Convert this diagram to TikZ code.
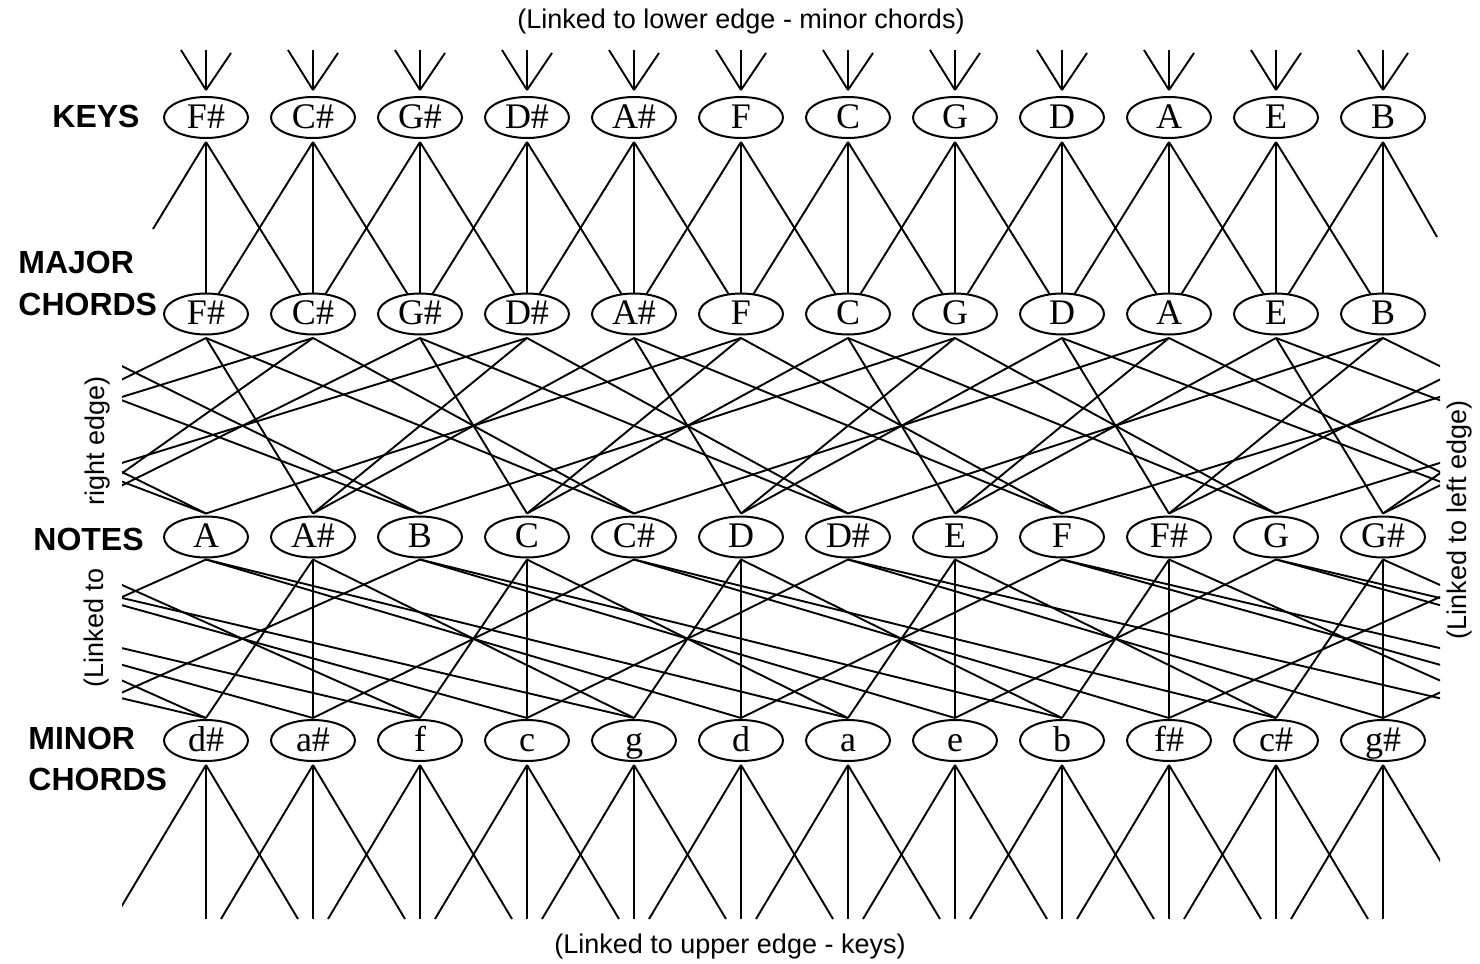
\documentclass[tikz,border=0pt]{standalone}
\usepackage{fontspec}
\setmainfont{Liberation Serif}
\newfontfamily\labfont{Liberation Sans}
\usetikzlibrary{shapes.geometric}
\begin{document}
\begin{tikzpicture}[x=0.5pt,y=-0.5pt,
  nd/.style={ellipse,draw,line width=1pt,minimum width=42pt,minimum height=20.5pt,
    inner sep=0pt,outer sep=0pt,text height=12pt,text depth=1.5pt,
    font=\fontsize{18}{20}\selectfont},
  ln/.style={line width=0.95pt},
  biglab/.style={font=\labfont\bfseries\fontsize{16}{18}\selectfont,anchor=west,inner sep=0pt},
  smalllab/.style={font=\labfont\fontsize{13.5}{15}\selectfont,inner sep=0pt}]
\fill[white] (0,0) rectangle (1480,964);
\useasboundingbox (0,0) rectangle (1480,964);

% ---------- nodes ----------
\foreach \n [count=\i] in {F\#,C\#,G\#,D\#,A\#,F,C,G,D,A,E,B} {
  \node[nd] (K\i) at ({206+(\i-1)*107},117.5) {\n};
  \node[nd] (M\i) at ({206+(\i-1)*107},314) {\n};
}
\foreach \n [count=\i] in {A,A\#,B,C,C\#,D,D\#,E,F,F\#,G,G\#}
  \node[nd] (N\i) at ({206+(\i-1)*107},537) {\n};
\foreach \n [count=\i] in {d\#,a\#,f,c,g,d,a,e,b,f\#,c\#,g\#}
  \node[nd] (m\i) at ({206+(\i-1)*107},740.5) {\n};

% ---------- attachment points ----------
\foreach \i in {1,...,12} {
  \coordinate (Kt\i) at ([yshift=3.5pt]K\i.north);
  \coordinate (Kb\i) at ([yshift=-2pt]K\i.south);
  \coordinate (Mb\i) at ([yshift=-1.75pt]M\i.south);
  \coordinate (Nt\i) at ([yshift=1.5pt]N\i.north);
  \coordinate (Nb\i) at ([yshift=-1pt]N\i.south);
  \coordinate (mt\i) at ([yshift=1pt]m\i.north);
  \coordinate (mb\i) at ([yshift=-2pt]m\i.south);
  \coordinate (tL\i) at ([shift={(-25,-40)}]Kt\i);
  \coordinate (tC\i) at ([shift={(0,-40)}]Kt\i);
  \coordinate (tR\i) at ([shift={(25,-37)}]Kt\i);
  \coordinate (bL\i) at ([shift={(-92,154)}]mb\i);
  \coordinate (bC\i) at ([shift={(0,154)}]mb\i);
  \coordinate (bR\i) at ([shift={(92,154)}]mb\i);
}
\coordinate (KsL) at (153,229);
\coordinate (KsR) at (1437,237);

% ---------- labels ----------
\node[biglab] (lkeys) at (52,116) {KEYS};
\node[biglab] (lmaj1) at (18,262) {MAJOR};
\node[biglab] (lmaj2) at (18,304) {CHORDS};
\node[biglab] (lnotes) at (33,539) {NOTES};
\node[biglab] (lmin1) at (28,738) {MINOR};
\node[biglab] (lmin2) at (28,779) {CHORDS};
\node[smalllab] (ttop) at (741,22) {(Linked to lower edge - minor chords)};
\node[smalllab] (tbot) at (730,947) {(Linked to upper edge - keys)};
\node[smalllab,rotate=90] (tl1) at (98,441) {right edge)};
\node[smalllab,rotate=90] (tl2) at (97,628) {(Linked to};
\node[smalllab,rotate=90] (tr) at (1460,520) {(Linked to left edge)};

% ---------- keys: links from the lower edge ----------
\foreach \i in {1,...,12} {
  \draw[ln] (tL\i) -- (Kt\i);
  \draw[ln] (tC\i) -- (Kt\i);
  \draw[ln] (tR\i) -- (Kt\i);
}

% ---------- keys -> major chords ----------
\foreach \i in {1,...,12} \draw[ln] (Kb\i) -- (M\i);
\foreach \i/\j in {1/2,2/3,3/4,4/5,5/6,6/7,7/8,8/9,9/10,10/11,11/12} {
  \draw[ln] (Kb\i) -- (M\j);
  \draw[ln] (Kb\j) -- (M\i);
}
\draw[ln] (Kb1) -- (KsL);
\draw[ln] (Kb12) -- (KsR);

\begin{scope}
\clip (122,0) rectangle (1440,964);
% ---------- major chords -> notes ----------
\foreach \c/\t in {1/-2,1/2,1/5, 2/-3,2/0,2/5, 3/0,3/4,3/7, 4/-1,4/2,4/7,
    5/2,5/6,5/9, 6/1,6/4,6/9, 7/4,7/8,7/11, 8/3,8/6,8/11,
    9/6,9/10,9/13, 10/5,10/8,10/13, 11/8,11/12,11/15, 12/7,12/10,12/15} {
  \ifnum\t<1
    \pgfmathtruncatemacro\tm{\t+12}
    \coordinate (vA) at ([xshift=-659pt]Nt\tm);
    \coordinate (vB) at ([xshift=659pt]Mb\c);
    \draw[ln] (Mb\c) -- (vA);
    \draw[ln] (vB) -- (Nt\tm);
  \else\ifnum\t>12
    \pgfmathtruncatemacro\tm{\t-12}
    \coordinate (vA) at ([xshift=659pt]Nt\tm);
    \coordinate (vB) at ([xshift=-659pt]Mb\c);
    \draw[ln] (Mb\c) -- (vA);
    \draw[ln] (vB) -- (Nt\tm);
  \else
    \draw[ln] (Mb\c) -- (Nt\t);
  \fi\fi
}
% ---------- notes -> minor chords ----------
\foreach \c/\t in {1/-5,1/-2,1/2, 2/-3,2/2,2/5, 3/-3,3/0,3/4, 4/-1,4/4,4/7,
    5/-1,5/2,5/6, 6/1,6/6,6/9, 7/1,7/4,7/8, 8/3,8/8,8/11,
    9/3,9/6,9/10, 10/5,10/10,10/13, 11/5,11/8,11/12, 12/7,12/12,12/15} {
  \ifnum\t<1
    \pgfmathtruncatemacro\tm{\t+12}
    \coordinate (vA) at ([xshift=-659pt]Nb\tm);
    \coordinate (vB) at ([xshift=659pt]mt\c);
    \draw[ln] (vA) -- (mt\c);
    \draw[ln] (Nb\tm) -- (vB);
  \else\ifnum\t>12
    \pgfmathtruncatemacro\tm{\t-12}
    \coordinate (vA) at ([xshift=659pt]Nb\tm);
    \coordinate (vB) at ([xshift=-659pt]mt\c);
    \draw[ln] (vA) -- (mt\c);
    \draw[ln] (Nb\tm) -- (vB);
  \else
    \draw[ln] (Nb\t) -- (mt\c);
  \fi\fi
}
% ---------- minor chords: links to the upper edge ----------
\foreach \i in {1,...,12} {
  \draw[ln] (mb\i) -- (bL\i);
  \draw[ln] (mb\i) -- (bC\i);
  \draw[ln] (mb\i) -- (bR\i);
}
\end{scope}
\end{tikzpicture}
\end{document}
